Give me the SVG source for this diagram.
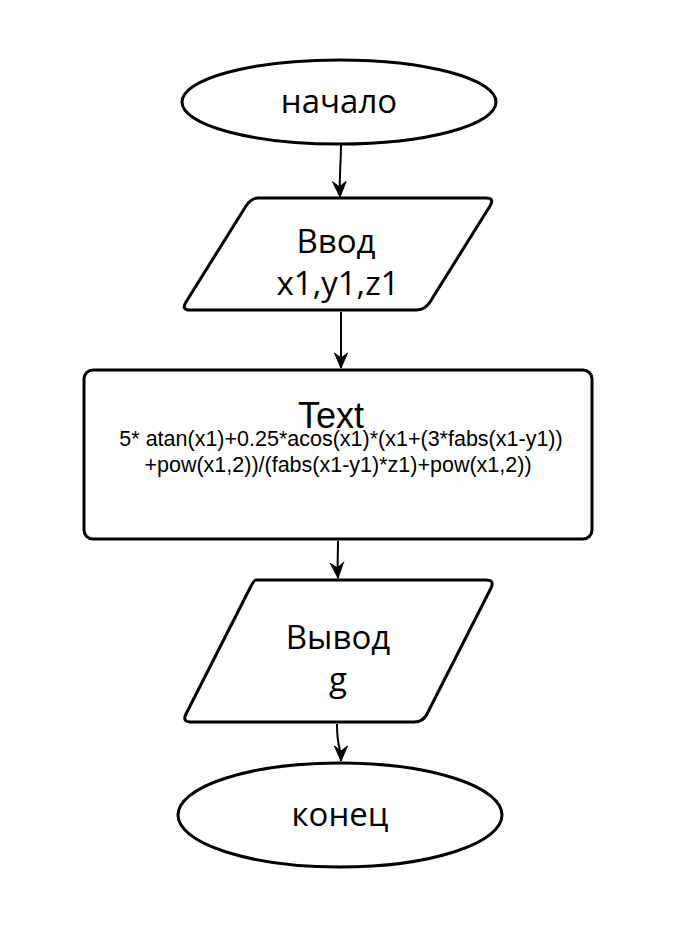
<svg xmlns="http://www.w3.org/2000/svg" width="684" height="942" viewBox="0 0 684 942">
<defs>
<style>
.shape{fill:#fff;stroke:#000;stroke-width:3;stroke-linejoin:round}
.lbl{font-family:"Open Sans","Noto Sans",sans-serif;font-size:33px;fill:#000;text-anchor:middle}
.sm{font-family:"Liberation Sans",Arial,sans-serif;font-size:21.5px;fill:#000;text-anchor:middle}
.big{font-family:"Liberation Sans",Arial,sans-serif;font-size:36px;fill:#000;text-anchor:middle}
.conn{fill:none;stroke:#000;stroke-width:2}
</style>
<marker id="arr" markerWidth="18" markerHeight="18" viewBox="-16 -9 18 18" refX="0" refY="0" orient="auto" markerUnits="userSpaceOnUse">
<path d="M0,0 L-15,-6.5 L-10,0 L-15,6.5 Z" fill="#000" stroke="#000" stroke-width="1" stroke-linejoin="miter"/>
</marker>
</defs>
<rect width="684" height="942" fill="#fff"/>
<g id="start">
<ellipse class="shape" cx="339" cy="102" rx="157" ry="42"/>
<text class="lbl" x="339" y="113">начало</text>
</g>
<g id="input">
<path class="shape" d="M258,198 L486,198 Q495,198 490,206 L430,302 Q425,310 416,310 L190,310 Q181,310 186,302 L246,206 Q251,198 258,198 Z"/>
<text class="lbl" x="336" y="253">Ввод</text>
<text class="lbl" x="338" y="295">x1,y1,z1</text>
</g>
<g id="calc">
<rect class="shape" x="84" y="370" width="508" height="169" rx="9"/>
<text class="big" x="331" y="428">Text</text>
<text class="sm" x="341" y="446">5* atan(x1)+0.25*acos(x1)*(x1+(3*fabs(x1-y1))</text>
<text class="sm" x="338" y="472">+pow(x1,2))/(fabs(x1-y1)*z1)+pow(x1,2))</text>
</g>
<g id="output">
<path class="shape" d="M256,580 L486,580 Q495,580 491,588 L427,714 Q423,722 414,722 L191,722 Q182,722 186,714 L250,588 Q254,580 256,580 Z"/>
<text class="lbl" x="338" y="649">Вывод</text>
<text class="lbl" x="338" y="691">g</text>
</g>
<g id="end">
<ellipse class="shape" cx="340" cy="815" rx="162" ry="52"/>
<text class="lbl" x="340" y="826">конец</text>
</g>
<g id="connectors">
<path class="conn" d="M341,145 C341,165 339,172 340,197" marker-end="url(#arr)"/>
<path class="conn" d="M341,312 L341,368" marker-end="url(#arr)"/>
<path class="conn" d="M338,541 C338,560 337,564 338,578" marker-end="url(#arr)"/>
<path class="conn" d="M337,724 C337,750 341,745 341,761" marker-end="url(#arr)"/>
</g>
</svg>
